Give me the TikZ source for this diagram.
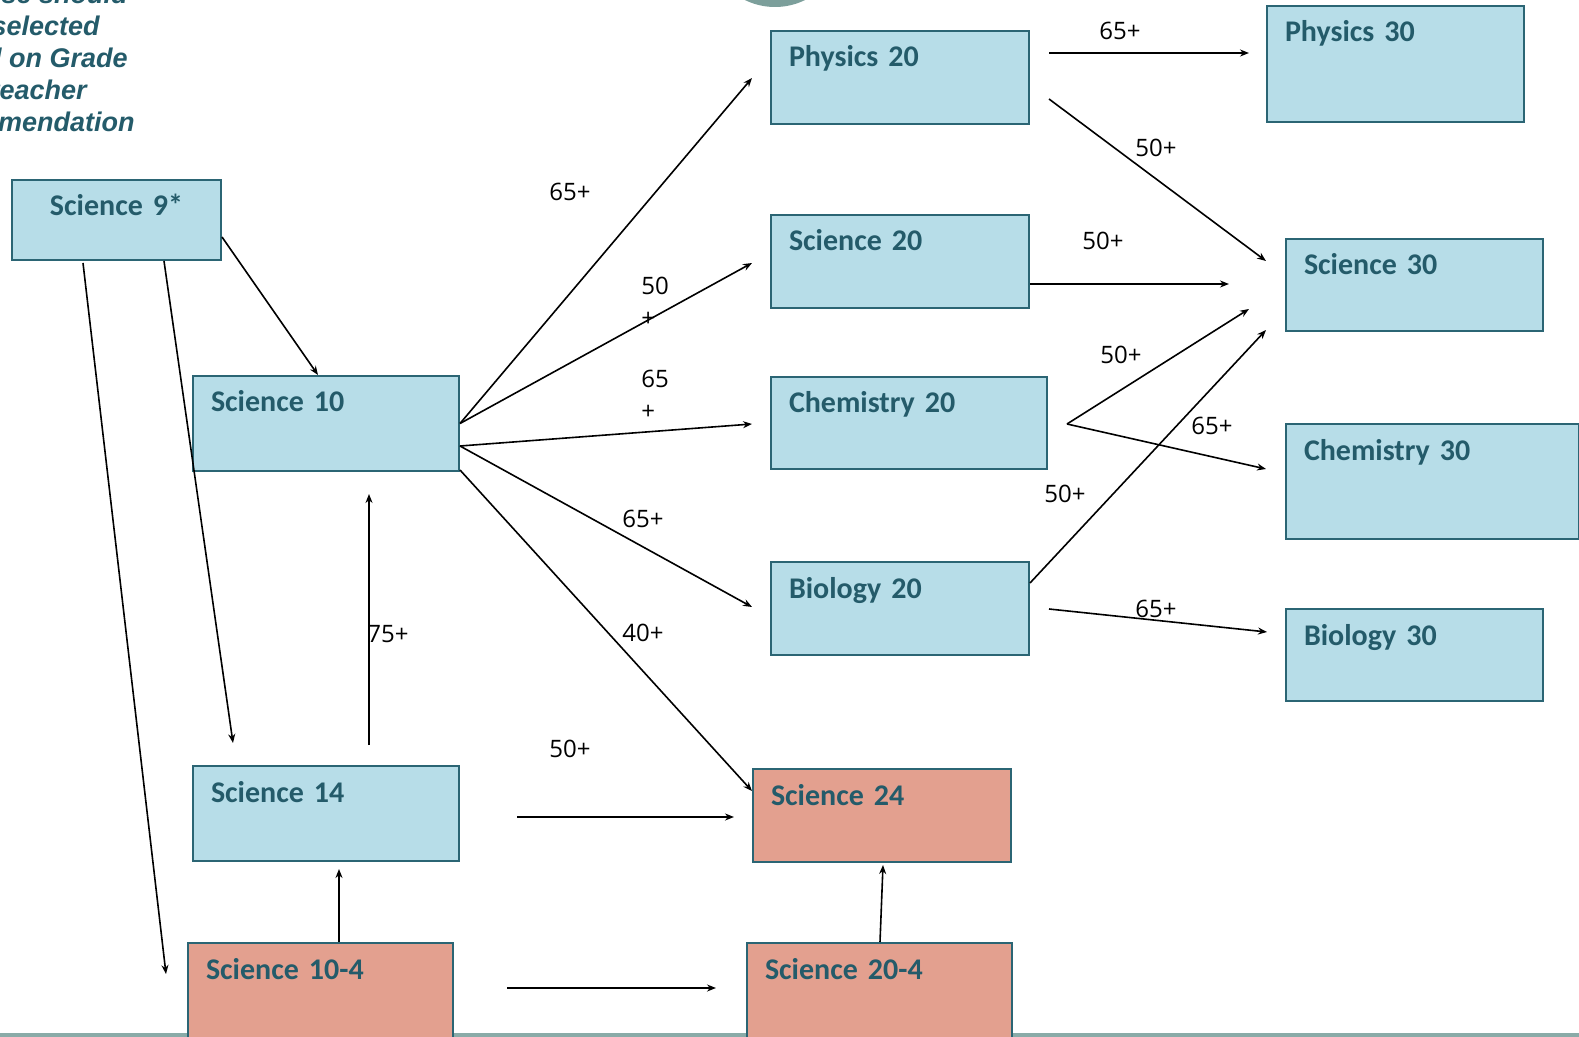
\documentclass[tikz,border=0pt]{standalone}
\usepackage{fontspec}
\usepackage{tikz}
\usetikzlibrary{arrows,arrows.meta,calc,positioning}
\newfontfamily\boxfamily{Carlito}[WordSpace=0.6]
\newfontfamily\lblfamily{Open Sans}
\newfontfamily\notefamily{Liberation Sans}
\definecolor{boxblue}{HTML}{B7DDE8}
\definecolor{boxpink}{HTML}{E3A08F}
\definecolor{boxline}{HTML}{2B6574}
\definecolor{boxtext}{HTML}{245B6A}
\definecolor{circgrey}{HTML}{7C9F9B}
\definecolor{bottomgrey}{HTML}{8AABA8}
\tikzset{
  course/.style={draw=boxline, line width=1pt, fill=boxblue, anchor=north west,
    inner xsep=9pt, inner ysep=0pt, align=left, text height=18pt, text=boxtext,
    font=\boxfamily\bfseries\fontsize{15pt}{18pt}\selectfont},
  coursefour/.style={course, fill=boxpink},
  lbl/.style={font=\lblfamily\fontsize{12pt}{16pt}\selectfont, inner sep=0pt, align=left},
  note/.style={font=\notefamily\bfseries\itshape\fontsize{13.5pt}{16pt}\selectfont, text=boxtext, inner sep=0pt},
  arr/.style={-{Stealth[length=4.5pt,width=3.5pt]}, line width=0.8pt},
}
\begin{document}
\begin{tikzpicture}[x=0.5pt, y=-0.5pt]
\useasboundingbox (0,0) rectangle (1579,1037);
\clip (0,0) rectangle (1579,1037);
\fill[circgrey] (775,-61) circle[radius=34pt];
\fill[bottomgrey] (0,1033) rectangle (1579,1037);
% note at the top left
\foreach \txt/\xe/\yb in {se should/128/4, selected/100/36, d on Grade/128/68, teacher/87/100, mendation/135/132}
  \node[note, anchor=base east] (note\yb) at (\xe,\yb) {\txt};
% grade 9 and 10
\node[course, align=center, text width=86.5pt, text depth=22pt] (sci9) at (11,179) {Science 9*};
\node[course, text width=115pt, text depth=29.5pt] (sci10) at (192,375) {Science 10};
\node[course, text width=115pt, text depth=29.5pt] (sci14) at (192,765) {Science 14};
\node[coursefour, text width=114.5pt, text depth=37pt] (sci104) at (187,942) {Science 10-4};
% grade 11
\node[course, text width=111pt, text depth=28.5pt] (phy20) at (770,30) {Physics 20};
\node[course, text width=111pt, text depth=28.5pt] (sci20) at (770,214) {Science 20};
\node[course, text width=120pt, text depth=28pt] (chem20) at (770,376) {Chemistry 20};
\node[course, text width=111pt, text depth=28.5pt] (bio20) at (770,561) {Biology 20};
\node[coursefour, text width=111pt, text depth=28.5pt] (sci24) at (752,768) {Science 24};
\node[coursefour, text width=114.5pt, text depth=37pt] (sci204) at (746,942) {Science 20-4};
% grade 12
\node[course, text width=110.5pt, text depth=40pt] (phy30) at (1266,5) {Physics 30};
\node[course, text width=110.5pt, text depth=28pt] (sci30) at (1285,238) {Science 30};
\node[course, text width=128.5pt, text depth=39.5pt] (chem30) at (1285,423) {Chemistry 30};
\node[course, text width=110.5pt, text depth=28pt] (bio30) at (1285,608) {Biology 30};
% from grade 9
\draw[arr] ($(sci9.east)+(0,17)$) -- ($(sci10.north)+(-8,0)$);
\draw[arr] ($(sci9.south)+(47.5,0)$) -- ($(sci14.north west)+(41,-22)$);
\draw[arr] ($(sci9.south)+(-33.5,2)$) -- ($(sci104.north west)+(-21,32)$);
% from grade 10
\draw[arr] ($(sci14.north)+(43,-20)$) -- ($(sci10.south)+(43,22)$) node[lbl] at (388,634) {75+};
\draw[arr] ($(sci104.north)+(18.5,0)$) -- ($(sci14.south)+(13,7)$);
\draw[arr] ($(sci204.north)+(0.5,0)$) -- ($(sci24.south)+(1,2)$);
\draw[arr] ($(sci104.north east)+(53,46)$) -- ($(sci204.north west)+(-30,46)$);
\draw[arr] ($(sci14.east)+(57,3.5)$) -- ($(sci24.west)+(-18,1.5)$) node[lbl] at (570,749) {50+};
\draw[arr] (sci10.east) -- ($(phy20.west)+(-18,0.5)$) node[lbl] at (570,192) {65+};
\draw[arr] (sci10.east) -- ($(sci20.west)+(-18,1.5)$) node[lbl] at (655,302) {50\\+};
\draw[arr] ($(sci10.east)+(0,22.5)$) -- ($(chem20.west)+(-18,1)$) node[lbl] at (655,395) {65\\+};
\draw[arr] ($(sci10.east)+(0,22.5)$) -- ($(bio20.west)+(-18,-1.5)$) node[lbl] at (643,519) {65+};
\draw[arr] ($(sci10.south east)+(0,-2)$) -- ($(sci24.north west)+(0,23)$) node[lbl] at (643,633) {40+};
% from grade 11
\draw[arr] ($(phy20.east)+(19,-24.5)$) -- ($(phy30.west)+(-17,-11)$) node[lbl] at (1120,31) {65+};
\draw[arr] ($(phy20.east)+(19,21.5)$) -- ($(sci30.west)+(-19,-24)$) node[lbl] at (1156,148) {50+};
\draw[arr] ($(sci20.east)+(0,22.5)$) -- ($(sci30.west)+(-56,-1)$) node[lbl] at (1103,241) {50+};
\coordinate (fork) at ($(chem20.east)+(19,1)$);
\draw[arr] (fork) -- ($(sci30.west)+(-36,24)$) node[lbl] at (1121,355) {50+};
\draw[arr] (fork) -- ($(chem30.west)+(-19,-12.5)$) node[lbl] at (1212,426) {65+};
\draw[arr] ($(bio20.east)+(0,-25.5)$) -- ($(sci30.south west)+(-19,-2)$) node[lbl] at (1065,494) {50+};
\draw[arr] ($(bio20.east)+(19,0.5)$) -- ($(bio30.west)+(-18,-23)$) node[lbl] at (1156,609) {65+};
\end{tikzpicture}
\end{document}
